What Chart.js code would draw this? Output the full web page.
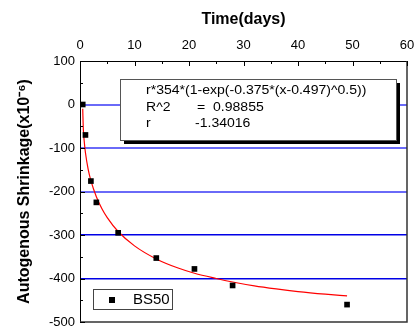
<!DOCTYPE html>
<html>
<head>
<meta charset="utf-8">
<script src="https://cdn.jsdelivr.net/npm/chart.js@4.4.0/dist/chart.umd.min.js"></script>
<style>
  html, body { margin: 0; padding: 0; background: #fff; }
  #wrap { width: 420px; height: 326px; }
</style>
</head>
<body>
<div id="wrap"><canvas id="shrinkChart" width="420" height="326"></canvas></div>
<script>
// measured autogenous shrinkage, BS50
const days = [0.5, 1, 2, 3, 7, 14, 21, 28, 49];
const shrinkage = [0, -70, -176, -225, -295, -353, -378, -416, -460];

// fitted curve
const fitDays = [0.5, 0.6, 0.8, 1, 1.5, 2, 3, 4, 5, 7, 10, 14, 18, 21, 25, 28, 32, 36, 40, 45, 49];
const fitShrinkage = [-10, -54, -88, -111, -149, -175, -212, -239, -260, -292, -325, -355, -376, -388, -400, -408, -417, -424, -430, -436, -440];

// horizontal blue lines
const lightLines = [0, -100, -200];
const darkLines = [-300, -400];

// fit result text
const fitEquation = 'r*354*(1-exp(-0.375*(x-0.497)^0.5))';
const fitRows = [['R^2', '=', '0.98855'], ['r', '', '-1.34016']];

const seriesName = 'BS50';
const FONT = "'Liberation Sans', Arial, sans-serif";

const points = days.map((d, i) => ({ x: d, y: shrinkage[i] }));
const fitPoints = fitDays.map((d, i) => ({ x: d, y: fitShrinkage[i] }));

// draws inward ticks, right/bottom frame, fit box and legend
const framePlugin = {
  id: 'frame',
  afterDraw(chart) {
    const ctx = chart.ctx;
    const a = chart.chartArea;
    const xs = chart.scales.x, ys = chart.scales.y;
    ctx.save();

    // right + bottom border
    ctx.strokeStyle = '#333';
    ctx.lineWidth = 1.5;
    ctx.beginPath();
    ctx.moveTo(a.right, a.top);
    ctx.lineTo(a.right, a.bottom);
    ctx.lineTo(a.left, a.bottom);
    ctx.stroke();

    // ticks
    ctx.strokeStyle = '#000';
    ctx.lineWidth = 1;
    ctx.beginPath();
    for (let v = 0; v <= 60; v += 5) {
      const px = Math.round(xs.getPixelForValue(v)) + 0.5;
      const len = v % 10 === 0 ? 5 : 3;
      ctx.moveTo(px, a.top);
      ctx.lineTo(px, a.top + len);
    }
    for (let v = -500; v <= 100; v += 50) {
      const py = Math.round(ys.getPixelForValue(v)) + 0.5;
      const len = v % 100 === 0 ? 5 : 3;
      ctx.moveTo(a.left, py);
      ctx.lineTo(a.left + len, py);
    }
    ctx.stroke();

    // fit result box with shadow
    const bx = 120, by = 79, bw = 276, bh = 61;
    ctx.fillStyle = '#000';
    ctx.fillRect(bx + 4, by + 4, bw, bh);
    ctx.fillStyle = '#fff';
    ctx.fillRect(bx, by, bw, bh);
    ctx.strokeStyle = '#555';
    ctx.lineWidth = 1;
    ctx.strokeRect(bx + 0.5, by + 0.5, bw, bh);

    ctx.fillStyle = '#000';
    ctx.textBaseline = 'middle';
    ctx.textAlign = 'left';
    ctx.font = '12px ' + FONT;
    const stretch = 1.17;
    function stretched(text, x, y) {
      ctx.save();
      ctx.translate(x, y);
      ctx.scale(stretch, 1);
      ctx.fillText(text, 0, 0);
      ctx.restore();
    }
    stretched(fitEquation, 146, 91);
    fitRows.forEach((row, i) => {
      const y = 108 + i * 16;
      stretched(row[0], 146, y);
      stretched(row[1], 197, y);
      stretched(row[2], row[1] ? 213 : 195, y);
    });

    // legend box
    ctx.strokeStyle = '#444';
    ctx.strokeRect(93.5, 289.5, 79, 20);
    ctx.fillStyle = '#000';
    ctx.fillRect(109, 297, 6, 6);
    ctx.font = '15px ' + FONT;
    ctx.fillText(seriesName, 133, 300);

    ctx.restore();
  }
};

const chart = new Chart(document.getElementById('shrinkChart'), {
  type: 'scatter',
  data: {
    datasets: [
      {
        label: seriesName,
        data: points,
        pointStyle: 'rect',
        pointRadius: 4,
        backgroundColor: '#000',
        borderColor: '#000',
        borderWidth: 0,
        order: 1
      },
      {
        label: 'fit',
        type: 'line',
        data: fitPoints,
        borderColor: '#ff0000',
        borderWidth: 1.2,
        pointRadius: 0,
        cubicInterpolationMode: 'monotone',
        fill: false,
        order: 2
      }
    ]
  },
  options: {
    responsive: false,
    animation: false,
    events: [],
    layout: { padding: { left: 0, top: 0, right: 13, bottom: 2.5 } },
    plugins: {
      legend: { display: false },
      tooltip: { enabled: false }
    },
    scales: {
      x: {
        type: 'linear',
        position: 'top',
        min: 0,
        max: 60,
        afterFit: s => { s.height = 61; },
        ticks: { stepSize: 10, padding: 0, color: '#000', font: { family: FONT, size: 13 } },
        grid: { display: false },
        border: { display: true, color: '#000', width: 1 },
        title: {
          display: true,
          text: 'Time(days)',
          color: '#000',
          font: { family: FONT, size: 16, weight: 'bold', lineHeight: 1.2 },
          padding: { top: 10, bottom: 0 }
        }
      },
      y: {
        type: 'linear',
        min: -500,
        max: 100,
        afterFit: s => { s.width = 80; s.paddingTop = 0; s.paddingBottom = 0; },
        ticks: { stepSize: 100, padding: 5, color: '#000', font: { family: FONT, size: 13 } },
        grid: {
          drawTicks: false,
          color: c => lightLines.includes(c.tick.value) ? '#6a6af8'
            : darkLines.includes(c.tick.value) ? '#0000e6' : 'rgba(0,0,0,0)',
          lineWidth: c => lightLines.includes(c.tick.value) ? 2 : 1.5
        },
        border: { display: true, color: '#000', width: 1 },
        title: {
          display: true,
          text: 'Autogenous Shrinkage(x10⁻⁶)',
          color: '#000',
          font: { family: FONT, size: 16, weight: 'bold', lineHeight: 1.2 },
          padding: { top: 15, bottom: 0 }
        }
      }
    }
  },
  plugins: [framePlugin]
});
</script>
</body>
</html>
